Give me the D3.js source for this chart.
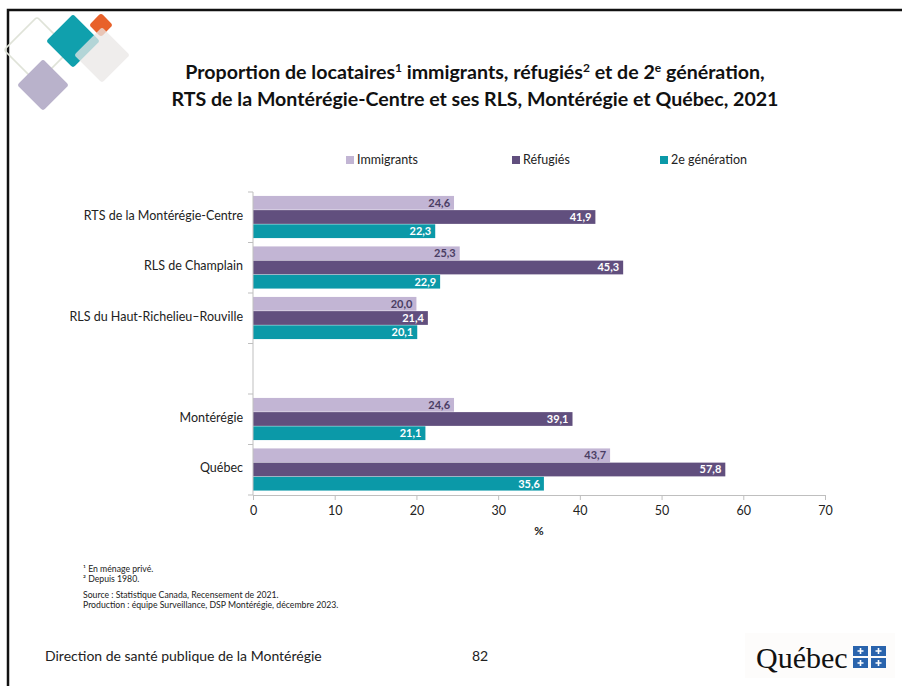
<!DOCTYPE html>
<html><head><meta charset="utf-8">
<script src="https://cdn.jsdelivr.net/npm/d3@7"></script>
<style>
html,body{margin:0;padding:0;background:#fff;}
svg{display:block;font-family:Lato,"Open Sans",sans-serif;}
</style></head>
<body>
<script>
const categories = ["RTS de la Montérégie-Centre", "RLS de Champlain", "RLS du Haut-Richelieu–Rouville", "", "Montérégie", "Québec"];
const seriesNames = ["Immigrants", "Réfugiés", "2e génération"];
const immigrants = [24.6, 25.3, 20.0, null, 24.6, 43.7];
const refugies   = [41.9, 45.3, 21.4, null, 39.1, 57.8];
const deuxiemeGen = [22.3, 22.9, 20.1, null, 21.1, 35.6];
const xTicks = [0, 10, 20, 30, 40, 50, 60, 70];
const colors = ["#c2b5d4", "#614f7e", "#0b99a8"];
const labelColors = ["#4a3d63", "#ffffff", "#ffffff"];

const W = 902, H = 686;
const svg = d3.select("body").append("svg").attr("width", W).attr("height", H);

// frame
svg.append("path").attr("d", "M8,686 L8,10 L902,10").attr("fill","none").attr("stroke","#111").attr("stroke-width",2.5);

// logo diamonds
function diamond(cx, cy, r, fill, opacity, stroke){
  svg.append("rect").attr("x", cx - r*0.707).attr("y", cy - r*0.707)
    .attr("width", r*1.414).attr("height", r*1.414).attr("rx", 3)
    .attr("transform", `rotate(45 ${cx} ${cy})`)
    .attr("fill", fill).attr("fill-opacity", opacity)
    .attr("stroke", stroke || "none").attr("stroke-width", stroke ? 1.5 : 0);
}
diamond(37, 50, 33, "none", 1, "#dfe3d8");
diamond(43, 85, 26, "#b9b2cb", 1);
diamond(73, 41, 27, "#10a0ad", 1);
diamond(101, 25, 12, "#e8612a", 1);
diamond(102, 55, 28, "#e9e7e6", 0.75);

// title
const title = svg.append("text").attr("text-anchor","middle").attr("font-weight","bold").attr("font-size",19.6).attr("fill","#111");
const l1 = title.append("tspan").attr("x", 475).attr("y", 79);
l1.append("tspan").text("Proportion de locataires");
l1.append("tspan").attr("font-size",12).attr("dy",-7).text("1");
l1.append("tspan").attr("dy",7).text(" immigrants, réfugiés");
l1.append("tspan").attr("font-size",12).attr("dy",-7).text("2");
l1.append("tspan").attr("dy",7).text(" et de 2");
l1.append("tspan").attr("font-size",12).attr("dy",-7).text("e");
l1.append("tspan").attr("dy",7).text(" génération,");
title.append("tspan").attr("x", 475).attr("y", 106).text("RTS de la Montérégie-Centre et ses RLS, Montérégie et Québec, 2021");

// scales
const x = d3.scaleLinear().domain([0, 70]).range([253, 825]);
const y = d3.scaleBand().domain(categories.map((c,i)=>i)).range([192, 495]).paddingInner(0).paddingOuter(0);
const y1 = d3.scaleBand().domain(seriesNames).range([3.5, y.bandwidth() - 4]).padding(0.03);

const allSeries = [immigrants, refugies, deuxiemeGen];
const fmt = v => d3.format(".1f")(v).replace(".", ",");

allSeries.forEach((vals, s) => {
  const g = svg.append("g");
  vals.forEach((v, i) => {
    if (v == null) return;
    const yy = y(i) + y1(seriesNames[s]);
    g.append("rect").attr("x", x(0)).attr("y", yy).attr("width", x(v) - x(0)).attr("height", y1.bandwidth())
      .attr("fill", colors[s]);
    g.append("text").attr("x", x(v) - 4).attr("y", yy + y1.bandwidth()/2).attr("dy","0.36em")
      .attr("text-anchor","end").attr("font-size",11).attr("font-weight","bold").attr("fill", labelColors[s]).text(fmt(v));
  });
});

// y axis
svg.append("line").attr("x1", x(0)).attr("x2", x(0)).attr("y1", 192).attr("y2", 495).attr("stroke","#bfbfbf");
d3.range(categories.length + 1).forEach(i => {
  const yy = 192 + i * y.step();
  svg.append("line").attr("x1", x(0) - 5).attr("x2", x(0)).attr("y1", yy).attr("y2", yy).attr("stroke","#bfbfbf");
});
categories.forEach((c, i) => {
  svg.append("text").attr("x", 243).attr("y", y(i) + y.bandwidth()/2 - 2).attr("dy","0.35em")
    .attr("text-anchor","end").attr("font-size",12.5).attr("fill","#222").text(c);
});

// x axis
const xAxis = svg.append("g").attr("transform", "translate(0,495)")
  .call(d3.axisBottom(x).tickValues(xTicks).tickSize(5).tickPadding(6));
xAxis.select(".domain").attr("stroke","#bfbfbf");
xAxis.selectAll(".tick line").attr("stroke","#bfbfbf");
xAxis.selectAll(".tick text").attr("font-size",12.5).attr("fill","#222").attr("font-family","Lato,sans-serif");
svg.append("text").attr("x", 539).attr("y", 535).attr("text-anchor","middle").attr("font-size",11.5).attr("font-weight","bold").attr("fill","#222").text("%");

// legend
const legX = [346, 512, 660];
seriesNames.forEach((n, i) => {
  svg.append("rect").attr("x", legX[i]).attr("y", 156).attr("width", 8).attr("height", 8).attr("fill", colors[i]);
  svg.append("text").attr("x", legX[i] + 11).attr("y", 160).attr("dy","0.35em").attr("font-size",12.5).attr("fill","#222").text(n);
});

// footnotes
const notes = [["¹ En ménage privé.", 572], ["² Depuis 1980.", 582], ["Source : Statistique Canada, Recensement de 2021.", 598], ["Production : équipe Surveillance, DSP Montérégie, décembre 2023.", 608]];
notes.forEach(([t, yy]) => svg.append("text").attr("x", 83).attr("y", yy).attr("font-size", 8.7).attr("fill","#222").text(t));

// footer
svg.append("text").attr("x", 45).attr("y", 661).attr("font-size", 14).attr("fill","#222").text("Direction de santé publique de la Montérégie");
svg.append("text").attr("x", 480).attr("y", 661).attr("text-anchor","middle").attr("font-size", 14).attr("fill","#222").text("82");

// Québec logo
svg.append("rect").attr("x", 745).attr("y", 633).attr("width", 150).attr("height", 45).attr("fill","#fdfcfb");
svg.append("text").attr("x", 756).attr("y", 668).attr("font-family","'Liberation Serif',serif").attr("font-size", 30).attr("fill","#111").text("Québec");
[[853,646],[871,646],[853,658],[871,658]].forEach(([qx,qy]) => {
  svg.append("rect").attr("x", qx).attr("y", qy).attr("width", 15).attr("height", 10).attr("fill","#2a64ad");
  svg.append("path").attr("d", `M${qx+7.5},${qy+2} L${qx+7.5},${qy+8} M${qx+4.5},${qy+5} L${qx+10.5},${qy+5}`).attr("stroke","#fff").attr("stroke-width",1.6);
});
</script>
</body></html>
